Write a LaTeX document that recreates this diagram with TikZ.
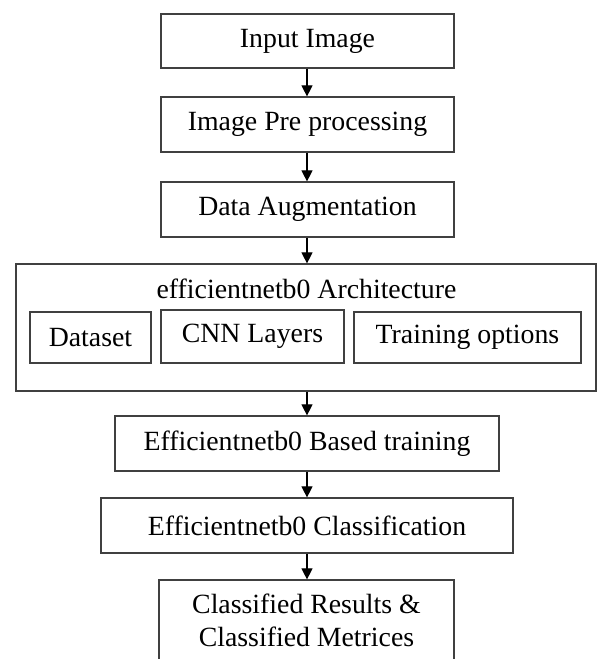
\documentclass[tikz,border=0pt]{standalone}
\usepackage{fontspec}
\setmainfont{Liberation Serif}
\usetikzlibrary{arrows.meta}
\tikzset{
  boxstyle/.style={draw=black!75, line width=1.2pt, rectangle, inner sep=0pt, align=center,
    font=\fontsize{27.8}{33}\selectfont},
  txt/.style={inner sep=0pt, font=\fontsize{27.8}{33}\selectfont},
  arr/.style={draw=black, line width=1.1pt, -{Triangle[width=11pt,length=11pt]}}
}
\begin{document}
\begin{tikzpicture}[x=1pt,y=-1pt]
\useasboundingbox (0,0) rectangle (597,659);
\clip (0,0) rectangle (597,659);
\fill[white] (0,0) rectangle (597,659);
\node[boxstyle, minimum width=293pt, minimum height=54pt] (b1) at (307.5,41) {Input Image};
\node[boxstyle, minimum width=293pt, minimum height=55pt] (b2) at (307.5,124.5) {Image Pre processing};
\node[boxstyle, minimum width=293pt, minimum height=55pt] (b3) at (307.5,209.5) {Data Augmentation};
\node[boxstyle, minimum width=580pt, minimum height=127pt] (big) at (306,327.5) {};
\node[txt, anchor=base] (title) at (306.5,298) {efficientnetb0 Architecture};
\node[boxstyle, minimum width=121pt, minimum height=51pt] (ds) at (90.5,337.5) {Dataset};
\node[boxstyle, minimum width=183pt, minimum height=53pt] (cnn) at (252.5,336.5) {CNN Layers};
\node[boxstyle, minimum width=227pt, minimum height=51pt] (tr) at (467.5,337.5) {Training options};
\node[boxstyle, minimum width=384pt, minimum height=55pt] (b5) at (307,443.5) {Efficientnetb0 Based training};
\node[boxstyle, minimum width=412pt, minimum height=55pt] (b6) at (307,525.5) {Efficientnetb0 Classification};
\node[boxstyle, minimum width=295pt, minimum height=80pt] (b7) at (306.5,620) {Classified Results \&\\Classified Metrices};
\draw[arr] (b1.south -| 307,0) -- (b2.north -| 307,0);
\draw[arr] (b2.south -| 307,0) -- (b3.north -| 307,0);
\draw[arr] (b3.south -| 307,0) -- (big.north -| 307,0);
\draw[arr] (big.south -| 307,0) -- (b5.north -| 307,0);
\draw[arr] (b5.south -| 307,0) -- (b6.north -| 307,0);
\draw[arr] (b6.south -| 307,0) -- (b7.north -| 307,0);
\end{tikzpicture}
\end{document}
